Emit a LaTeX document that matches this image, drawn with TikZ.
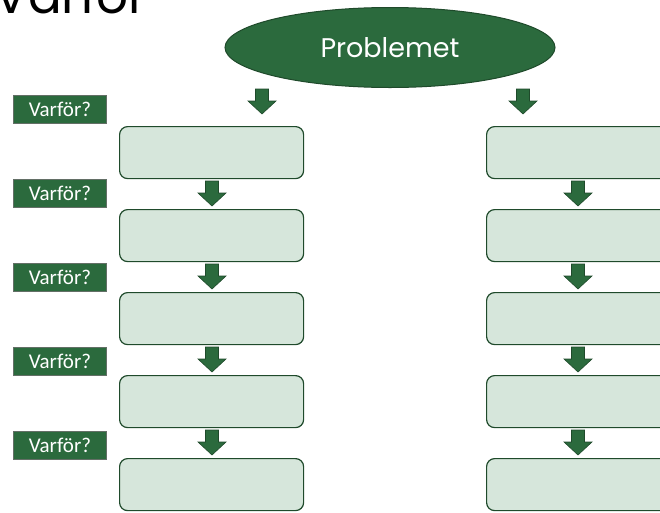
\documentclass[tikz,border=0pt]{standalone}
\usepackage{fontspec}
\setmainfont{Carlito}
\newfontfamily\popp{Poppins}
\usetikzlibrary{shapes.geometric}
\definecolor{dg}{HTML}{2B6A3D}
\definecolor{dgb}{HTML}{1F4A2B}
\definecolor{lg}{HTML}{D6E6DB}
\begin{document}
\begin{tikzpicture}[x=1pt,y=-1pt,
  box/.style={draw=dgb,line width=1.2pt,fill=lg,rounded corners=8pt,minimum width=184pt,minimum height=52pt,inner sep=0pt,anchor=north west},
  why/.style={draw=gray!70!dgb,line width=0.8pt,fill=dg,text=white,minimum width=93pt,minimum height=28pt,inner sep=0pt,font=\fontsize{21}{21}\selectfont},
  blk/.style={fill=dg,draw=dgb,line width=0.6pt}]
\useasboundingbox (0,0) rectangle (660,512);
\begin{scope}
\clip (0,0) rectangle (660,512);
\node[anchor=base west,inner sep=0pt,font=\popp\fontsize{50}{50}\selectfont] (title) at (-6,13) {Varför};
\end{scope}
\node[ellipse,fill=dg,draw=dgb,line width=1pt,minimum width=330pt,minimum height=80pt,inner sep=0pt,text=white,font=\popp\fontsize{27}{27}\selectfont] (prob) at (390,47.5) {Problemet};
% boxes
\foreach \i/\y in {1/126,2/209,3/292,4/375,5/458}{
  \node[box] (L\i) at (119,\y) {};
  \node[box] (R\i) at (486,\y) {};
}
% labels
\foreach \i/\y in {1/109,2/193,3/277,4/361,5/445}{
  \node[why] (W\i) at (60,\y) {Varför?};
}
% block arrows
\newcommand\darr[2]{%
  \path[blk] (#1-6.5,#2) -- (#1+6.5,#2) -- (#1+6.5,#2+12) -- (#1+14,#2+12) -- (#1,#2+25) -- (#1-14,#2+12) -- (#1-6.5,#2+12) -- cycle;}
\darr{262}{89}
\darr{523}{89}
\foreach \y in {181,264,347,430}{
  \darr{212}{\y}
  \darr{578}{\y}
}
\end{tikzpicture}
\end{document}
